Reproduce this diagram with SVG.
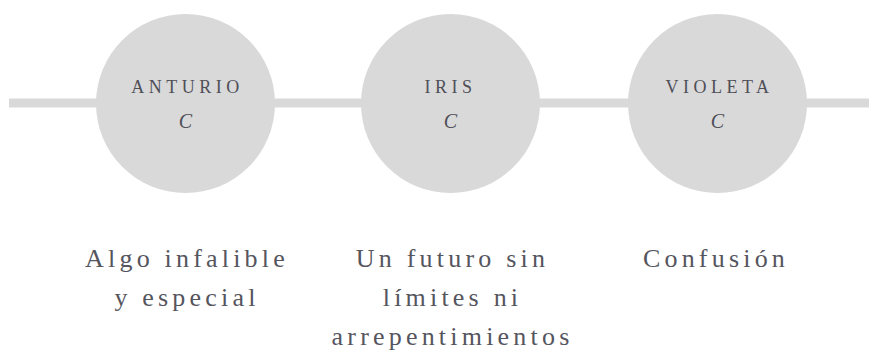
<svg xmlns="http://www.w3.org/2000/svg" width="869" height="360" viewBox="0 0 869 360">
<style>
.node circle{fill:#d9d9d9}
.name{font-family:"Liberation Serif",serif;font-size:18px;letter-spacing:4.5px;fill:#4f4f58;text-anchor:middle}
.var{font-family:"Liberation Serif",serif;font-size:20px;font-style:italic;fill:#4f4f58;text-anchor:middle}
.desc{font-family:"Liberation Serif",serif;font-size:26px;letter-spacing:4.2px;fill:#55555e;text-anchor:middle}
</style>
<rect width="869" height="360" fill="#ffffff"/>
<g id="connectors">
<rect x="9" y="98.5" width="860" height="9" fill="#d9d9d9"/>
</g>
<g id="anturio" class="node">
<circle cx="185.5" cy="103.5" r="89.5"/>
<text class="name" x="187.5" y="93">ANTURIO</text>
<text class="var" x="185.5" y="128">C</text>
<text class="desc" x="187" y="267">Algo infalible</text>
<text class="desc" x="187" y="306">y especial</text>
</g>
<g id="iris" class="node">
<circle cx="450.5" cy="103.5" r="89.5"/>
<text class="name" x="450.5" y="93">IRIS</text>
<text class="var" x="450.5" y="128">C</text>
<text class="desc" x="452.5" y="267">Un futuro sin</text>
<text class="desc" x="452.5" y="306">límites ni</text>
<text class="desc" x="452.5" y="345">arrepentimientos</text>
</g>
<g id="violeta" class="node">
<circle cx="717.5" cy="103.5" r="89.5"/>
<text class="name" x="719.5" y="93">VIOLETA</text>
<text class="var" x="717.5" y="128">C</text>
<text class="desc" x="716" y="267">Confusión</text>
</g>
</svg>
